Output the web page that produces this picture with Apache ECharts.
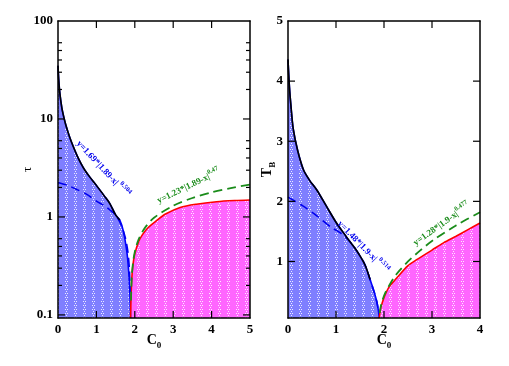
<!DOCTYPE html>
<html><head><meta charset="utf-8">
<script src="https://cdn.jsdelivr.net/npm/echarts@6/dist/echarts.min.js"></script>
<style>html,body{margin:0;padding:0;background:#fff}#c{width:509px;height:366px}</style>
</head><body><div id="c"></div>
<script>
// ---------- data ----------
// Left panel: tau vs C0 (log y)
const tauBoundX = [0.0, 0.02, 0.05, 0.1, 0.15, 0.2, 0.3, 0.4, 0.5, 0.6, 0.7, 0.83, 1.0, 1.2, 1.35, 1.5, 1.61, 1.7, 1.79, 1.84, 1.87, 1.89];
const tauBoundY = [35, 25, 18, 13, 10.5, 8.8, 6.6, 5.2, 4.2, 3.5, 3.0, 2.55, 2.1, 1.65, 1.37, 1.05, 0.93, 0.72, 0.45, 0.28, 0.17, 0.093];
const tauBlackEndX = 1.61;
const tauFitLowX = [0.0, 0.25, 0.5, 0.75, 1.0, 1.25, 1.5, 1.65, 1.75, 1.82, 1.86, 1.88];
const tauFitLowY = [2.25, 2.1, 1.9, 1.7, 1.45, 1.27, 1.04, 0.82, 0.62, 0.44, 0.29, 0.17];
const tauHighX = [1.89, 1.9, 1.92, 1.95, 2.0, 2.1, 2.2, 2.35, 2.57, 2.8, 3.18, 3.6, 4.13, 4.6, 5.0];
const tauHighY = [0.093, 0.14, 0.23, 0.32, 0.42, 0.56, 0.66, 0.78, 0.92, 1.07, 1.25, 1.35, 1.43, 1.47, 1.49];
const tauFitHighX = [1.9, 1.92, 1.95, 2.0, 2.1, 2.25, 2.5, 3.0, 3.5, 4.0, 4.5, 5.0];
const tauFitHighY = [0.14, 0.24, 0.33, 0.44, 0.59, 0.76, 0.98, 1.3, 1.56, 1.78, 1.97, 2.14];
const tauLabels = [0.1, 1, 10, 100];
const tauMajorTicks = [0.1, 1, 10];
const tauMinorTicks = [0.2, 0.3, 0.4, 0.5, 0.6, 2, 3, 4, 5, 6, 20, 30, 40, 50, 60];
const tauXTicks = [1, 2, 3, 4];
const tauMin = 0.093, tauMax = 100, tauXMax = 5;

// Right panel: T_B vs C0 (linear y)
const tbBoundX = [0.0, 0.03, 0.06, 0.11, 0.2, 0.32, 0.45, 0.6, 0.8, 1.01, 1.2, 1.29, 1.43, 1.6, 1.71, 1.8, 1.85, 1.88, 1.9];
const tbBoundY = [4.36, 3.9, 3.6, 3.2, 2.85, 2.53, 2.35, 2.19, 1.92, 1.64, 1.43, 1.33, 1.18, 0.95, 0.70, 0.48, 0.33, 0.2, 0.06];
const tbBlackEndX = 1.75;
const tbFitLowX = [0.0, 0.3, 0.6, 0.9, 1.1, 1.29, 1.43, 1.6, 1.71, 1.8, 1.85, 1.88];
const tbFitLowY = [2.07, 1.93, 1.76, 1.57, 1.47, 1.33, 1.18, 0.95, 0.70, 0.48, 0.33, 0.2];
const tbHighX = [1.9, 1.93, 1.97, 2.0, 2.1, 2.26, 2.5, 2.68, 3.0, 3.24, 3.5, 3.75, 4.0];
const tbHighY = [0.06, 0.22, 0.33, 0.40, 0.57, 0.72, 0.93, 1.03, 1.19, 1.31, 1.42, 1.53, 1.64];
const tbFitHighX = [1.91, 1.93, 1.96, 2.0, 2.1, 2.25, 2.5, 2.75, 3.0, 3.5, 4.0];
const tbFitHighY = [0.14, 0.24, 0.33, 0.43, 0.59, 0.78, 1.0, 1.18, 1.34, 1.6, 1.82];
const tbLabels = [1, 2, 3, 4, 5];
const tbYTicks = [1, 2, 3, 4];
const tbXTicks = [1, 2, 3];
const tbMin = 0.06, tbMax = 5, tbXMax = 4;

// ---------- helpers ----------
const zip = (xs, ys) => xs.map((x, i) => [x, ys[i]]);
function pattern(base) {
  const c = document.createElement('canvas');
  c.width = 9; c.height = 4;
  const g = c.getContext('2d');
  g.fillStyle = base; g.fillRect(0, 0, 9, 4);
  g.fillStyle = 'rgba(255,255,255,0.85)';
  g.fillRect(2, 1, 1, 1); g.fillRect(4, 1, 1, 1); g.fillRect(3, 3, 1, 1);
  return c;
}
const blueFill = { image: pattern('#7f7fff'), repeat: 'repeat' };
const pinkFill = { image: pattern('#ff66ff'), repeat: 'repeat' };

const FONT = 'Liberation Serif';
const lblStyle = { fontFamily: FONT, fontWeight: 'bold', fontSize: 13, color: '#000' };
const axLine = () => ({ show: true, onZero: false, lineStyle: { color: '#000', width: 1.5 } });
const noTick = () => ({ show: false });
const noLabel = () => ({ show: false });
const nameRich = {
  a: { fontFamily: FONT, fontWeight: 'bold', fontSize: 14, lineHeight: 17, verticalAlign: 'top', color: '#000' },
  s: { fontFamily: FONT, fontWeight: 'bold', fontSize: 9, lineHeight: 9, verticalAlign: 'bottom', color: '#000' }
};
const G0 = { left: 58, top: 21, width: 192, height: 297 };
const G1 = { left: 288, top: 21, width: 192, height: 297 };
// grids: 0 left main, 1 left overlay (top/right frame), 2 right main, 3 right overlay
const grids = [G0, G0, G1, G1].map(g => Object.assign({}, g));

const xAxis = [
  { type: 'value', gridIndex: 0, min: 0, max: tauXMax, interval: 1, position: 'bottom', z: 10,
    axisLine: axLine(), splitLine: { show: false }, axisTick: noTick(),
    axisLabel: Object.assign({ margin: 5 }, lblStyle),
    name: '{a|C}{s|0}', nameLocation: 'middle', nameGap: 15, nameMoveOverlap: false,
    nameTextStyle: { rich: nameRich } },
  { type: 'value', gridIndex: 1, min: 0, max: tauXMax, interval: 1, position: 'top', z: 10,
    axisLine: axLine(), splitLine: { show: false }, axisTick: noTick(), axisLabel: noLabel() },
  { type: 'value', gridIndex: 2, min: 0, max: tbXMax, interval: 1, position: 'bottom', z: 10,
    axisLine: axLine(), splitLine: { show: false }, axisTick: noTick(),
    axisLabel: Object.assign({ margin: 5 }, lblStyle),
    name: '{a|C}{s|0}', nameLocation: 'middle', nameGap: 15, nameMoveOverlap: false,
    nameTextStyle: { rich: nameRich } },
  { type: 'value', gridIndex: 3, min: 0, max: tbXMax, interval: 1, position: 'top', z: 10,
    axisLine: axLine(), splitLine: { show: false }, axisTick: noTick(), axisLabel: noLabel() }
];

const yAxis = [
  { type: 'log', gridIndex: 0, min: tauMin, max: tauMax, position: 'left', z: 10,
    axisLine: axLine(), splitLine: { show: false }, axisTick: noTick(),
    axisLabel: Object.assign({ margin: 5, customValues: tauLabels, formatter: v => String(+(+v).toPrecision(3)) }, lblStyle),
    name: 'τ', nameLocation: 'middle', nameRotate: 90, nameGap: 24, nameMoveOverlap: false,
    nameTextStyle: { fontFamily: FONT, fontSize: 13, color: '#000' } },
  { type: 'log', gridIndex: 1, min: tauMin, max: tauMax, position: 'right', z: 10,
    axisLine: axLine(), splitLine: { show: false }, axisTick: noTick(), axisLabel: noLabel() },
  { type: 'value', gridIndex: 2, min: tbMin, max: tbMax, position: 'left', z: 10,
    axisLine: axLine(), splitLine: { show: false }, axisTick: noTick(),
    axisLabel: Object.assign({ margin: 5, customValues: tbLabels }, lblStyle),
    name: '{a|T}{s|B}', nameLocation: 'middle', nameRotate: 90, nameGap: 11, nameMoveOverlap: false,
    nameTextStyle: { rich: nameRich } },
  { type: 'value', gridIndex: 3, min: tbMin, max: tbMax, position: 'right', z: 10,
    axisLine: axLine(), splitLine: { show: false }, axisTick: noTick(), axisLabel: noLabel() }
];

function line(xi, yi, data, color, width, dashed, z) {
  return { type: 'line', xAxisIndex: xi, yAxisIndex: yi, data: data, showSymbol: false, symbol: 'none',
    smooth: 0.3, z: z || 3, silent: true,
    lineStyle: { color: color, width: width, type: dashed ? [9, 5] : 'solid' } };
}
function area(xi, yi, data, lineColor, fill) {
  const s = line(xi, yi, data, lineColor, 1.6, false, 2);
  s.areaStyle = { color: fill, opacity: 1, origin: 'start' };
  return s;
}

const tauBound = zip(tauBoundX, tauBoundY);
const tbBound = zip(tbBoundX, tbBoundY);

const series = [
  area(0, 0, tauBound, '#0000ff', blueFill),
  area(0, 0, zip(tauHighX, tauHighY), '#ff0000', pinkFill),
  line(0, 0, zip(tauFitLowX, tauFitLowY), '#0000ee', 1.6, true, 4),
  line(0, 0, zip(tauFitHighX, tauFitHighY), '#1a8c1a', 1.8, true, 4),
  line(0, 0, tauBound.filter(p => p[0] <= tauBlackEndX), '#000000', 1.6, false, 5),

  area(2, 2, tbBound, '#0000ff', blueFill),
  area(2, 2, zip(tbHighX, tbHighY), '#ff0000', pinkFill),
  line(2, 2, zip(tbFitLowX, tbFitLowY), '#0000ee', 1.6, true, 4),
  line(2, 2, zip(tbFitHighX, tbFitHighY), '#1a8c1a', 1.8, true, 4),
  line(2, 2, tbBound.filter(p => p[0] <= tbBlackEndX), '#000000', 1.6, false, 5)
];

function fitLabel(x, y, rot, main, sup, color) {
  return { type: 'text', x: x, y: y, rotation: rot, z: 100,
    style: { text: '{m|' + main + '}{p|' + sup + '}', align: 'center', verticalAlign: 'middle',
      rich: {
        m: { fontFamily: FONT, fontWeight: 'bold', fontSize: 9, lineHeight: 12, verticalAlign: 'bottom', fill: color },
        p: { fontFamily: FONT, fontWeight: 'bold', fontSize: 6.5, lineHeight: 6.5, verticalAlign: 'top', fill: color }
      } } };
}
const labels = [
  fitLabel(104, 168, -0.82, 'y=1.69*|1.89-x|', ' 0.504', '#0000ee'),
  fitLabel(188, 185, 0.45, 'y=1.23*|1.89-x|', '0.47', '#1a8c1a'),
  fitLabel(364, 246, -0.8, 'y=1.48*|1.9-x|', ' 0.514', '#0000ee'),
  fitLabel(441, 223, 0.62, 'y=1.28*|1.9-x|', '0.477', '#1a8c1a')
];

const chart = echarts.init(document.getElementById('c'), null, { renderer: 'canvas' });
chart.setOption({
  animation: false,
  backgroundColor: '#fff',
  grid: grids,
  xAxis: xAxis,
  yAxis: yAxis,
  series: series,
  graphic: labels
});

// ---------- inside tick marks on all four sides, placed through the axes' own scales ----------
function seg(x1, y1, x2, y2) {
  return { type: 'line', z: 120, silent: true, shape: { x1: x1, y1: y1, x2: x2, y2: y2 },
    style: { stroke: '#000', lineWidth: 1.2 } };
}
function panelTicks(xi, yi, xMax, yMin, yMax, xTicks, yMajor, yMinor) {
  const out = [];
  const conv = (x, y) => chart.convertToPixel({ xAxisIndex: xi, yAxisIndex: yi }, [x, y]);
  const bl = conv(0, yMin), tr = conv(xMax, yMax);
  const left = bl[0], bottom = bl[1], right = tr[0], top = tr[1];
  xTicks.forEach(v => {
    const px = conv(v, yMax)[0];
    out.push(seg(px, bottom, px, bottom - 7));
    out.push(seg(px, top, px, top + 7));
  });
  const yTick = (v, L) => {
    const py = conv(0, v)[1];
    out.push(seg(left, py, left + L, py));
    out.push(seg(right, py, right - L, py));
  };
  yMajor.forEach(v => yTick(v, 7));
  (yMinor || []).forEach(v => yTick(v, 4));
  return out;
}
const ticks = panelTicks(0, 0, tauXMax, tauMin, tauMax, tauXTicks, tauMajorTicks, tauMinorTicks)
  .concat(panelTicks(2, 2, tbXMax, tbMin, tbMax, tbXTicks, tbYTicks));
chart.setOption({ graphic: labels.concat(ticks) });
</script>
</body></html>
